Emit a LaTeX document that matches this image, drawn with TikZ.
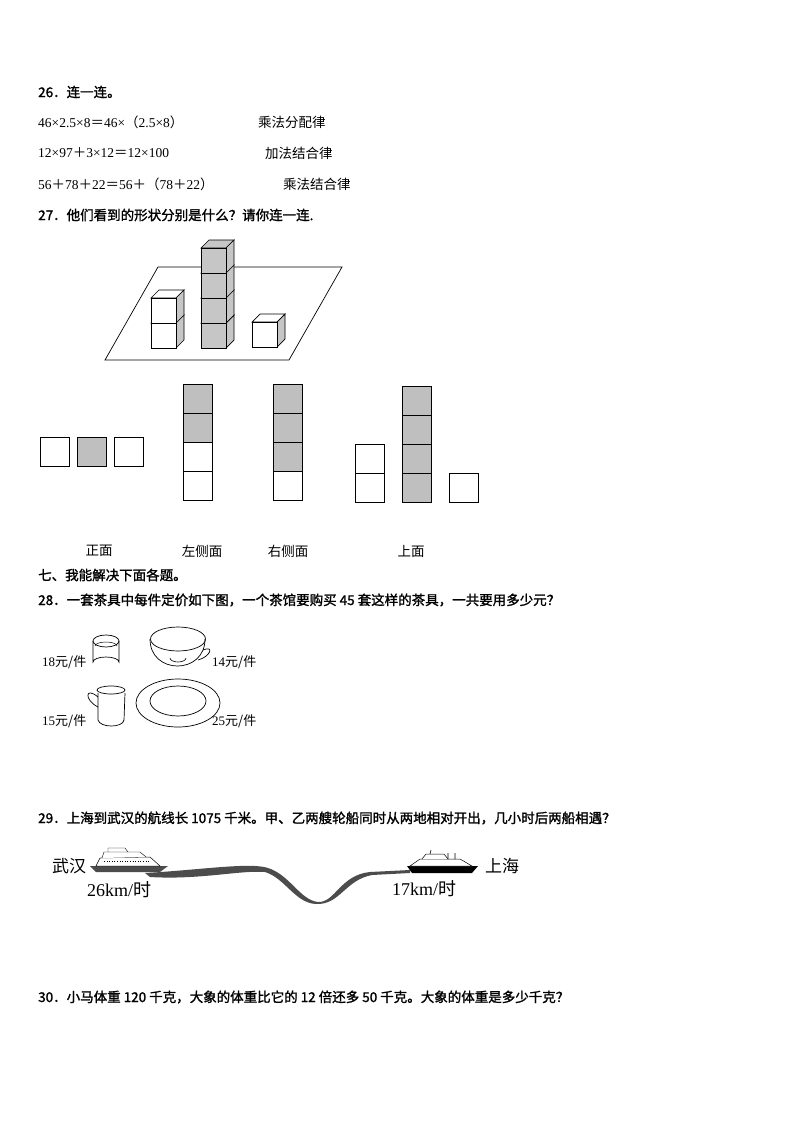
\documentclass[tikz,border=0pt]{standalone}
\usepackage{fontspec}
\setmainfont{Noto Sans CJK SC}
\newfontfamily\bq[FakeBold=1.5]{Noto Sans CJK SC}
\newfontfamily\sr{Liberation Serif}
\begin{document}
\begin{tikzpicture}[x=1pt,y=-1pt,
  q/.style={anchor=west,inner sep=0,font=\bq\fontsize{13.5}{14}\selectfont},
  t/.style={anchor=west,inner sep=0,font=\fontsize{13.5}{14}\selectfont},
  lb/.style={anchor=center,inner sep=0,font=\fontsize{13.5}{14}\selectfont},
  pr/.style={anchor=west,inner sep=0,font=\fontsize{13}{14}\selectfont},
  sq/.style={draw,fill=white,line width=0.8pt},
  gq/.style={draw,fill=gray!50,line width=0.8pt}]
\useasboundingbox (0,0) rectangle (794,1123);
\fill[white] (0,0) rectangle (794,1123);
\node[q] (q26) at (38,92) {26．连一连。};
\node[t] (a1) at (38,122) {{\sr 46×2.5×8}＝{\sr 46×}（{\sr 2.5×8}）};
\node[t] (b1) at (258,122) {乘法分配律};
\node[t] (a2) at (38,153) {{\sr 12×97}＋{\sr 3×12}＝{\sr 12×100}};
\node[t] (b2) at (265,153) {加法结合律};
\node[t] (a3) at (38,184) {{\sr 56}＋{\sr 78}＋{\sr 22}＝{\sr 56}＋（{\sr 78}＋{\sr 22}）};
\node[t] (b3) at (283,184) {乘法结合律};
\node[q] (q27) at (38,215) {27．他们看到的形状分别是什么？请你连一连.};
\draw[line width=0.7pt] (158,267)--(342,267)--(289,360)--(105,360)--cycle;
\newcommand\mycube[4]{%
 \fill[white] (#1,#2)--(#1+8,#2-8)--(#1+#3+8,#2-8)--(#1+#3+8,#2+#3-8)--(#1+#3,#2+#3)--(#1,#2+#3)--cycle;
 \draw[line width=0.7pt,fill=#4] (#1,#2)--(#1+8,#2-8)--(#1+#3+8,#2-8)--(#1+#3,#2)--cycle;
 \draw[line width=0.7pt,fill=gray!45] (#1+#3,#2)--(#1+#3+8,#2-8)--(#1+#3+8,#2+#3-8)--(#1+#3,#2+#3)--cycle;
 \draw[line width=0.7pt,fill=#4] (#1,#2) rectangle (#1+#3,#2+#3);}
\mycube{151}{323}{25}{white}
\mycube{151}{298}{25}{white}
\mycube{201}{323}{25}{gray!45}
\mycube{201}{298}{25}{gray!45}
\mycube{201}{273}{25}{gray!45}
\mycube{201}{248}{25}{gray!45}
\mycube{252}{322}{25}{white}
\draw[sq] (40,437) rectangle (69,466);
\draw[gq] (77,437) rectangle (106,466);
\draw[sq] (114,437) rectangle (143,466);
\foreach \i/\s in {0/gq,1/gq,2/sq,3/sq}{\draw[\s] (183,384+29*\i) rectangle (212,413+29*\i);}
\foreach \i/\s in {0/gq,1/gq,2/gq,3/sq}{\draw[\s] (273,384+29*\i) rectangle (302,413+29*\i);}
\draw[sq] (355,444) rectangle (384,473);
\draw[sq] (355,473) rectangle (384,502);
\foreach \i in {0,1,2,3}{\draw[gq] (402,386+29*\i) rectangle (431,415+29*\i);}
\draw[sq] (449,473) rectangle (478,502);
\node[lb] (l1) at (99,551) {正面};
\node[lb] (l2) at (202,551) {左侧面};
\node[lb] (l3) at (288,551) {右侧面};
\node[lb] (l4) at (411,551) {上面};
\node[q] (s7) at (38,575) {七、我能解决下面各题。};
\node[q] (q28) at (38,600) {28．一套茶具中每件定价如下图，一个茶馆要购买 45 套这样的茶具，一共要用多少元？};
\draw[line width=0.7pt] (93,641) -- (93,662) arc[start angle=180,end angle=360,x radius=13,y radius=5] -- (119,641);
\draw[line width=0.7pt] (106,641) ellipse[x radius=13,y radius=6];
\draw[line width=0.5pt] (95,646) arc[start angle=180,end angle=360,x radius=11,y radius=4];
\draw[line width=0.7pt] (150,639) ..controls (150,675) and (205,675) .. (205,639);
\draw[line width=0.7pt] (178,639) ellipse[x radius=27.5,y radius=12];
\draw[line width=0.6pt] (170,658) arc[start angle=180,end angle=0,x radius=8,y radius=4];
\draw[line width=0.7pt] (203,650) ..controls (215,645) and (210,657) .. (198,660);
\draw[line width=0.7pt] (98,693) -- (98,720) ..controls (100,728) and (123,728) .. (124,720) -- (125,693);
\draw[line width=0.7pt] (111,690) ellipse[x radius=14,y radius=4];
\draw[line width=0.7pt] (98,697) ..controls (85,686) and (84,700) .. (98,707);
\draw[line width=0.7pt] (178,703) ellipse[x radius=42,y radius=24];
\draw[line width=0.7pt] (178,701) ellipse[x radius=28,y radius=15];
\node[pr] (p1) at (42,662) {{\sr 18}元/件};
\node[pr] (p2) at (212,662) {{\sr 14}元/件};
\node[pr] (p3) at (42,721) {{\sr 15}元/件};
\node[pr] (p4) at (212,721) {{\sr 25}元/件};
\node[q] (q29) at (38,818) {29．上海到武汉的航线长 1075 千米。甲、乙两艘轮船同时从两地相对开出，几小时后两船相遇？};
\fill[gray!60!black] (145,873) ..controls (200,870) and (250,862) .. (268,868) ..controls (290,875) and (300,900) .. (318,902) ..controls (335,903) and (340,875) .. (370,872) -- (410,870) -- (410,873) -- (372,875) ..controls (345,880) and (340,905) .. (316,904) ..controls (295,903) and (285,878) .. (265,872) ..controls (240,870) and (200,880) .. (150,877) -- cycle;
\fill[black!70] (90,866) -- (168,866) -- (160,872) -- (96,872) -- cycle;
\draw[line width=0.5pt,fill=white] (96,866) -- (100,858) -- (150,857) -- (160,866) -- cycle;
\draw[line width=0.4pt,fill=white] (102,858) -- (104,852) -- (140,852) -- (146,857);
\draw[line width=0.4pt] (108,852) -- (108,848) -- (125,848) -- (128,852);
\draw[line width=0.6pt,dotted] (104,861) -- (150,861);
\fill[black] (407,866) -- (478,866) -- (472,873) -- (412,873) -- cycle;
\draw[line width=0.5pt,fill=white] (410,866) -- (420,859) -- (460,859) -- (472,866) -- cycle;
\draw[line width=0.5pt,fill=white] (422,859) -- (426,854) -- (444,854) -- (448,859);
\draw[line width=0.6pt] (430,854) -- (431,850) (448,859) -- (448,853) (455,859) -- (455,853);
\node[pr,font=\fontsize{17}{18}\selectfont] (w) at (52,866) {武汉};
\node[pr,font=\fontsize{17}{18}\selectfont] (s) at (485,866) {上海};
\node[pr,font=\fontsize{18}{18}\selectfont] (v1) at (87,890) {{\sr 26km/}时};
\node[pr,font=\fontsize{18}{18}\selectfont] (v2) at (392,889) {{\sr 17km/}时};
\node[q] (q30) at (38,997) {30．小马体重 120 千克，大象的体重比它的 12 倍还多 50 千克。大象的体重是多少千克？};
\end{tikzpicture}
\end{document}
